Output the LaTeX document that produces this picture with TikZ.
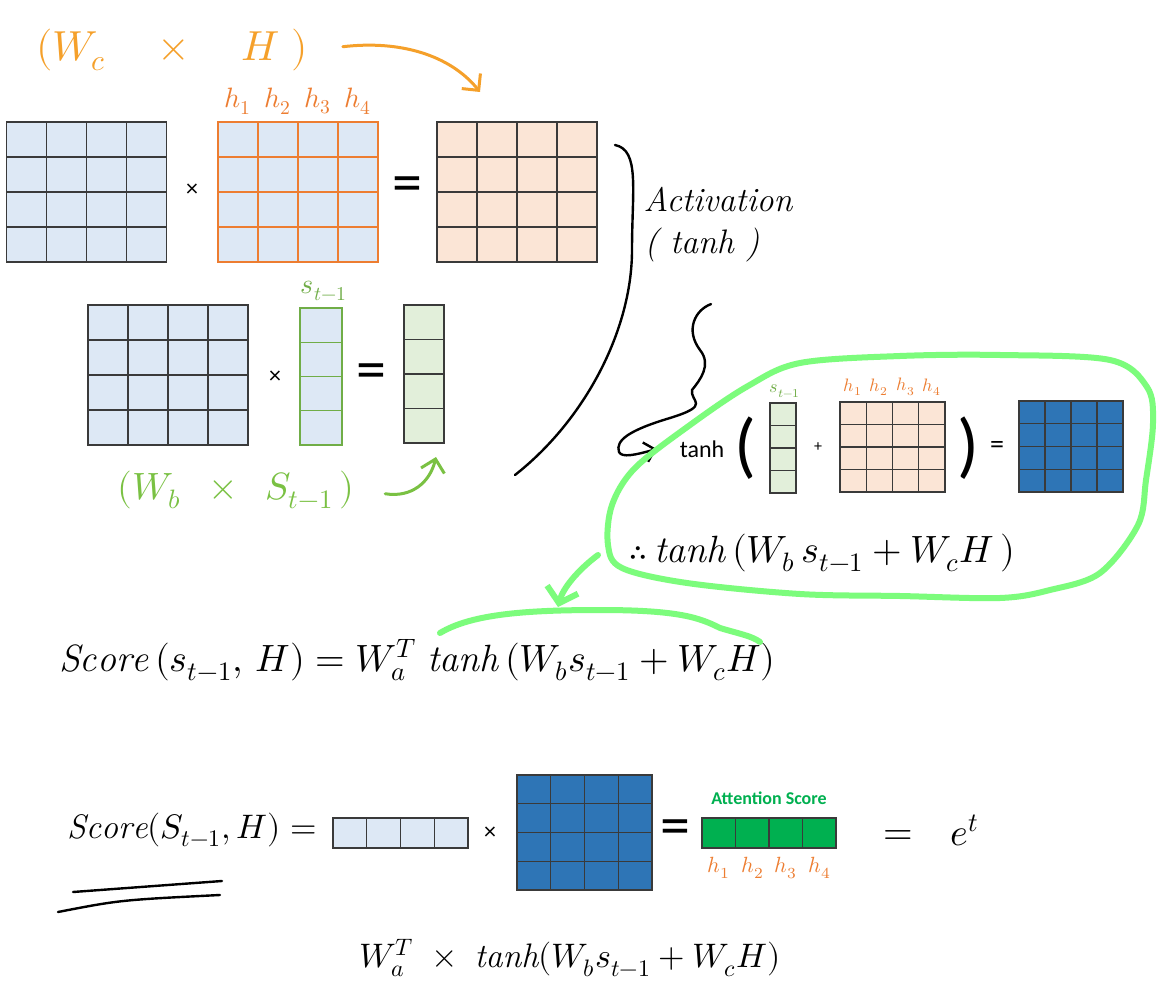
\documentclass[tikz,border=0pt]{standalone}
\usepackage{fontspec}
\usepackage{unicode-math}
\setsansfont{Carlito}
\usetikzlibrary{calc,arrows.meta}

\definecolor{lightb}{HTML}{DDE8F5}
\definecolor{orangef}{HTML}{FBE5D6}
\definecolor{greenf}{HTML}{E2EFDA}
\definecolor{darkb}{HTML}{2E75B6}
\definecolor{scoreg}{HTML}{00B050}
\definecolor{hlab}{HTML}{ED7D31}
\definecolor{slab}{HTML}{70AD47}
\definecolor{gridc}{HTML}{3A3A3A}
\definecolor{handorange}{HTML}{F5A02A}
\definecolor{handgreen}{HTML}{7AC143}
\definecolor{loopg}{HTML}{7CFC7C}

\tikzset{
  cells/.style n args={3}{draw=#3, line width=0.6pt, inner sep=0pt, path picture={
    \foreach \k in {1,...,#1}
      \draw[#3, line width=0.6pt] ($(path picture bounding box.south west)!\k/#1!(path picture bounding box.south east)$) -- ($(path picture bounding box.north west)!\k/#1!(path picture bounding box.north east)$);
    \foreach \k in {1,...,#2}
      \draw[#3, line width=0.6pt] ($(path picture bounding box.south west)!\k/#2!(path picture bounding box.north west)$) -- ($(path picture bounding box.south east)!\k/#2!(path picture bounding box.north east)$);
  }},
}

\begin{document}
\begin{tikzpicture}[x=0.5pt,y=-0.5pt,line cap=round,
  hand/.style={font=\fontsize{19}{21}\selectfont},
  handsm/.style={font=\fontsize{17}{19}\selectfont},
  handline/.style={line width=1.2pt},
  handarrow/.style={line width=1.5pt,-{Straight Barb[length=6pt,width=12pt]}},
  loopline/.style={loopg,line width=3pt},
  op/.style={font=\sffamily\fontsize{12}{12}\selectfont},
  eq/.style={font=\sffamily\fontsize{30}{30}\selectfont},
  hbig/.style={text=hlab,font=\fontsize{14}{14}\selectfont},
  hsmall/.style={text=hlab,font=\fontsize{9}{9}\selectfont}]
\fill[white] (0,0) rectangle (1157,1000);
\useasboundingbox (0,0) rectangle (1157,1000);

\node[hand,font=\fontsize{21}{23}\selectfont,text=handorange] (wch) at (172,50) {$(W_c\quad\times\quad H\;)$};
\coordinate (otip) at (480,92);
\draw[handarrow,handorange,shorten <=14pt] (wch.east) .. controls (400,40) and (450,55) .. (otip);

\node[cells={4}{4}{gridc},fill=lightb,minimum width=80pt,minimum height=70pt] (wc) at (86.5,192) {};
\node[op] (x1) at (192,190) {×};
\node[cells={4}{4}{hlab},fill=lightb,minimum width=80pt,minimum height=70pt] (hm) at (298,192) {};
\foreach \i/\x in {1/238,2/278,3/318,4/358} \node[hbig] (h\i) at (\x,101) {$h_\i$};
\node[eq] (e1) at (407,190) {=};
\node[cells={4}{4}{gridc},fill=orangef,minimum width=80pt,minimum height=70pt] (wchm) at (517,192) {};

\node[cells={4}{4}{gridc},fill=lightb,minimum width=80pt,minimum height=70pt] (wb) at (168,375) {};
\node[op] (x2) at (275,377) {×};
\node[cells={1}{4}{slab},fill=lightb,minimum width=21pt,minimum height=68.5pt] (sv) at (321,376.5) {};
\node[text=slab,font=\fontsize{14}{14}\selectfont] (sl) at (324,291) {$s_{t-1}$};
\node[eq] (e2) at (371,377) {=};
\node[cells={1}{4}{gridc},fill=greenf,minimum width=20pt,minimum height=69pt] (wbs) at (424,374) {};
\node[hand,text=handgreen] (wbst) at (236,490) {$(W_b\enspace\times\enspace S_{t-1}\,)$};
\coordinate (gtip) at (436,457);
\draw[handarrow,handgreen,shorten <=12pt] (wbst.east) .. controls (412,498) and (430,482) .. (gtip);

\draw[handline] (615,145) .. controls (640,150) and (632,190) .. (632,250) .. controls (632,330) and (585,420) .. (515,475);
\node[handsm] (act) at (718,200) {\itshape Activation};
\node[handsm] (tnh) at (702,245) {\itshape ( tanh )};

\node[font=\sffamily\fontsize{12}{12}\selectfont] (tw) at (702,449) {tanh};
\draw[handline,-{Straight Barb[length=5pt,width=10pt]}] (tnh.south) ++(9,35) .. controls (695,310) and (685,330) .. (700,350) .. controls (712,365) and (700,380) .. (692,390) .. controls (690,402) and (712,405) .. (670,418) .. controls (630,430) and (615,440) .. (619,452) .. controls (622,458) and (635,455) .. ([xshift=-8pt]tw.west);

\node[font=\sffamily\fontsize{36}{36}\selectfont] (lp) at (745,448) {(};
\node[cells={1}{4}{gridc},fill=greenf,minimum width=13pt,minimum height=45pt] (sv2) at (783,448) {};
\node[text=slab,font=\fontsize{9}{9}\selectfont] (sl2) at (785,391) {$s_{t-1}$};
\node[font=\sffamily\fontsize{8}{8}\selectfont] (pl) at (818,447) {+};
\node[cells={4}{4}{gridc},fill=orangef,minimum width=52.5pt,minimum height=45pt] (oh2) at (892.5,447) {};
\foreach \i/\x in {1/853,2/879,3/906,4/932} \node[hsmall] (hs\i) at (\x,387) {$h_\i$};
\node[font=\sffamily\fontsize{36}{36}\selectfont] (rp) at (968,448) {)};
\node[font=\sffamily\fontsize{14}{14}\selectfont] (e3) at (997,447) {=};
\node[cells={4}{4}{gridc},fill=darkb,minimum width=52pt,minimum height=45.5pt] (dbm) at (1071,446.5) {};
\node[hand] (thr) at (822,553) {$\therefore\,\mathit{tanh}\,(W_b\,s_{t-1} + W_c H\,)$};

\draw[loopline] plot[smooth cycle,tension=0.55] coordinates {(748,386) (800,363) (900,356) (1000,355) (1110,360) (1147,387) (1153,423) (1146,480) (1138,525) (1100,573) (1050,590) (1000,598) (900,596) (800,594) (687,583) (622,568) (608,545) (612,505) (635,468) (690,425)};
\coordinate (lo) at (598,555);
\coordinate (ov) at (558,607);
\draw[loopline,-{Straight Barb[length=7pt,width=16pt]}] (lo) .. controls (578,570) and (563,588) .. (ov);

\node[hand,anchor=west] (sc1) at (52,660) {$\mathit{Score}\,(s_{t-1},\,H) = W_a^{T}\;\mathit{tanh}\,(W_b s_{t-1} + W_c H)$};
\draw[loopline] (440,633) .. controls (470,615) and (520,610) .. (600,610) .. controls (680,610) and (700,618) .. (720,628) .. controls (740,634) and (752,636) .. (760,642);

\node[hand,font=\fontsize{17}{19}\selectfont] (sc2) at (192,830) {$\mathit{Score}(S_{t-1},H)=$};
\draw[handline] (73,892) -- (222,881);
\draw[handline] (58,912) .. controls (120,900) .. (220,895);
\node[cells={4}{1}{gridc},fill=lightb,minimum width=67.5pt,minimum height=15pt] (wat) at (400.5,833) {};
\node[op] (x3) at (490,833) {×};
\node[cells={4}{4}{gridc},fill=darkb,minimum width=67.5pt,minimum height=57.5pt] (dbm2) at (584.5,832.5) {};
\node[eq] (e4) at (675,833) {=};
\node[cells={4}{1}{gridc},fill=scoreg,minimum width=67pt,minimum height=15pt] (att) at (769,833) {};
\node[text=scoreg,font=\sffamily\bfseries\fontsize{9}{9}\selectfont] (attl) at (769,798) {Attention Score};
\foreach \i/\x in {1/719,2/753,3/786,4/820} \node[hbig,font=\fontsize{11}{11}\selectfont] (ha\i) at (\x,868) {$h_\i$};
\node[hand] (e5) at (898,838) {$=$};
\node[hand] (et) at (965,830) {$e^{t}$};
\node[hand,font=\fontsize{17}{19}\selectfont] (fin) at (570,958) {$W_a^{T}\;\times\;\mathit{tanh}(W_b s_{t-1}+W_c H)$};
\end{tikzpicture}
\end{document}
